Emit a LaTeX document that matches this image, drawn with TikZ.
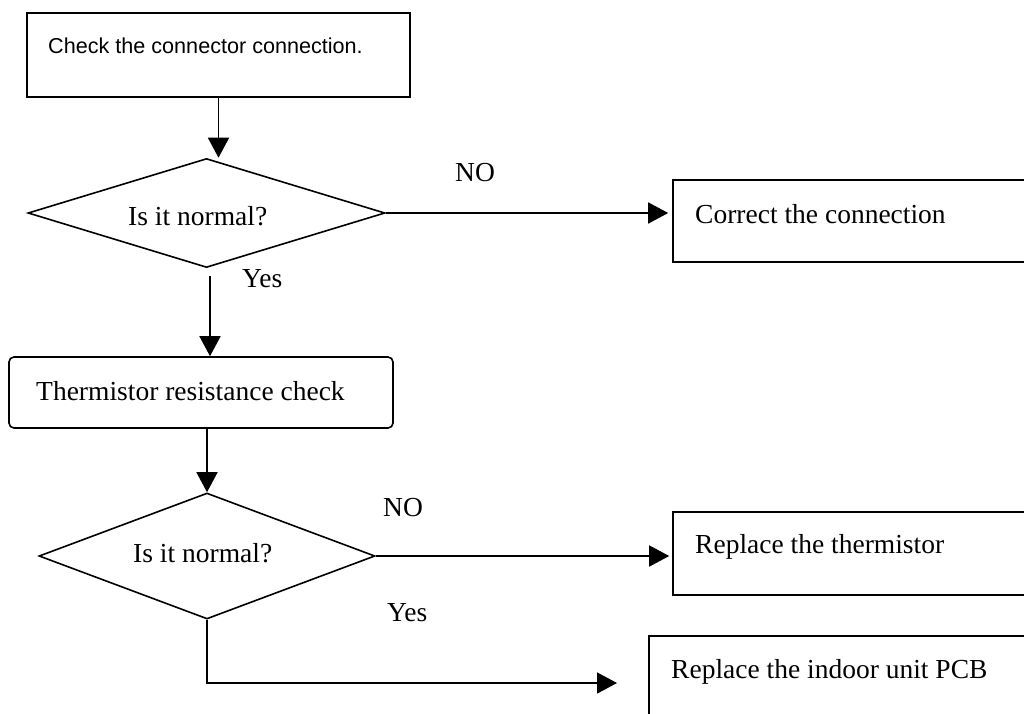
\documentclass[tikz,border=0pt]{standalone}
\usepackage{fontspec}
\setmainfont{Liberation Serif}
\newfontfamily\arialfont{Liberation Sans}
\usetikzlibrary{shapes.geometric,arrows.meta}
\tikzset{
  boxshape/.style={draw, rectangle, line width=1.6pt, inner sep=0pt},
  roundbox/.style={draw, rectangle, rounded corners=5pt, line width=1.6pt, inner sep=0pt},
  decision/.style={draw, diamond, line width=1.6pt, inner sep=0pt},
  arr/.style={line width=1.6pt, -{Triangle[length=20pt,width=21pt]}},
  serif/.style={anchor=base west, inner sep=0pt, font=\fontsize{27.5}{33}\selectfont},
  sans/.style={anchor=base west, inner sep=0pt, font=\arialfont\fontsize{21.6}{26}\selectfont}
}
\begin{document}
\begin{tikzpicture}[x=1pt,y=-1pt]
\useasboundingbox (0,0) rectangle (1024,713);
\fill[white] (0,0) rectangle (1024,713);
\clip (0,0) rectangle (1024,713);

% shapes
\node[boxshape, minimum width=383pt, minimum height=84pt] (box1) at (218.5,55) {};
\node[decision, minimum width=357pt, minimum height=109pt, shape aspect=3.27] (d1) at (206.5,213) {};
\node[boxshape, minimum width=380pt, minimum height=82pt] (box2) at (863,221) {};
\node[roundbox, minimum width=384pt, minimum height=71pt] (box3) at (201,392.5) {};
\node[decision, minimum width=336pt, minimum height=126pt, shape aspect=2.67] (d2) at (207,556) {};
\node[boxshape, minimum width=380pt, minimum height=83pt] (box4) at (863,553.5) {};
\node[boxshape, minimum width=400pt, minimum height=130pt] (box5) at (849,701) {};
\coordinate (b5in) at (617,683);

% texts
\node[sans] (t1) at (48,53) {Check the connector connection.};
\node[serif] (t2) at (128,225) {Is it normal?};
\node[serif] (no1) at (455,181) {NO};
\node[serif] (t3) at (695,223) {Correct the connection};
\node[serif] (yes1) at (242,287) {Yes};
\node[serif] (t4) at (36,400) {Thermistor resistance check};
\node[serif] (t5) at (133,562) {Is it normal?};
\node[serif] (no2) at (383,516) {NO};
\node[serif] (t6) at (695,553) {Replace the thermistor};
\node[serif] (yes2) at (387,621) {Yes};
\node[serif] (t7) at (671,678) {Replace the indoor unit PCB};

% connectors
\draw[arr] (box1.south) -- (box1.south |- d1.north);
\draw[arr] (d1.east) -- ([xshift=-4pt]d1.east -| box2.west);
\draw[arr] ([xshift=3.5pt,yshift=-8pt]d1.south) -- ([xshift=3.5pt]d1.south |- box3.north);
\draw[arr] (d2.north |- box3.south) -- (d2.north);
\draw[arr] (d2.east) -- ([xshift=-3pt]d2.east -| box4.west);
\draw[arr] (d2.south) |- (b5in);
\end{tikzpicture}
\end{document}
